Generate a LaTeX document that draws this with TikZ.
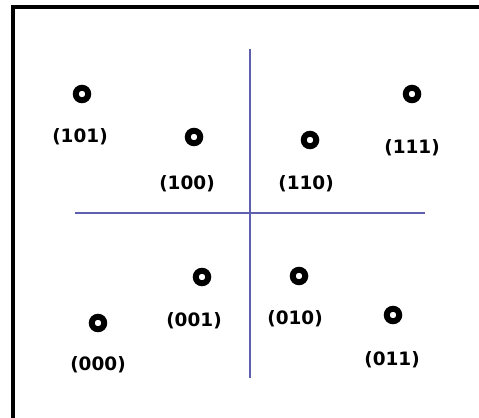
\documentclass[tikz,border=0pt]{standalone}
\usepackage{fontspec}
\setmainfont{DejaVu Sans}
\usetikzlibrary{positioning}
\definecolor{axisblue}{RGB}{95,95,175}

\begin{document}
\begin{tikzpicture}[x=0.02cm, y=-0.02cm,
    dot/.style={circle, draw, line width=3.4pt, minimum size=0.25cm, inner sep=0pt},
    code/.style={font=\bfseries\fontsize{10.5}{12}\selectfont, inner sep=0pt},
    axis/.style={draw=axisblue, line width=0.75pt}
]
\useasboundingbox (0,0) rectangle (479,418);

% Frame (only left and top edges are visible)
\draw[line width=2.3pt] (13,418) -- (13,7) -- (479,7);

% Axes
\coordinate (ytop) at (250,49);
\coordinate (ybot) at (250,378);
\coordinate (xleft) at (75,213);
\coordinate (xright) at (425,213);
\draw[axis] (ytop) -- (ybot);
\draw[axis] (xleft) -- (xright);

% Points, upper half
\node[dot] (p101) at (82,94) {};
\node[code] (l101) at (80,137) {(101)};
\node[dot] (p100) at (194,137) {};
\node[code] (l100) at (187,184) {(100)};
\node[dot] (p110) at (310,140) {};
\node[code] (l110) at (306,184) {(110)};
\node[dot] (p111) at (412,94) {};
\node[code] (l111) at (412,148) {(111)};

% Points, lower half
\node[dot] (p000) at (98,323) {};
\node[code] (l000) at (98,365) {(000)};
\node[dot] (p001) at (202,277) {};
\node[code] (l001) at (194,321) {(001)};
\node[dot] (p010) at (299,276) {};
\node[code] (l010) at (295,319) {(010)};
\node[dot] (p011) at (393,315) {};
\node[code] (l011) at (392,360) {(011)};

\end{tikzpicture}
\end{document}
